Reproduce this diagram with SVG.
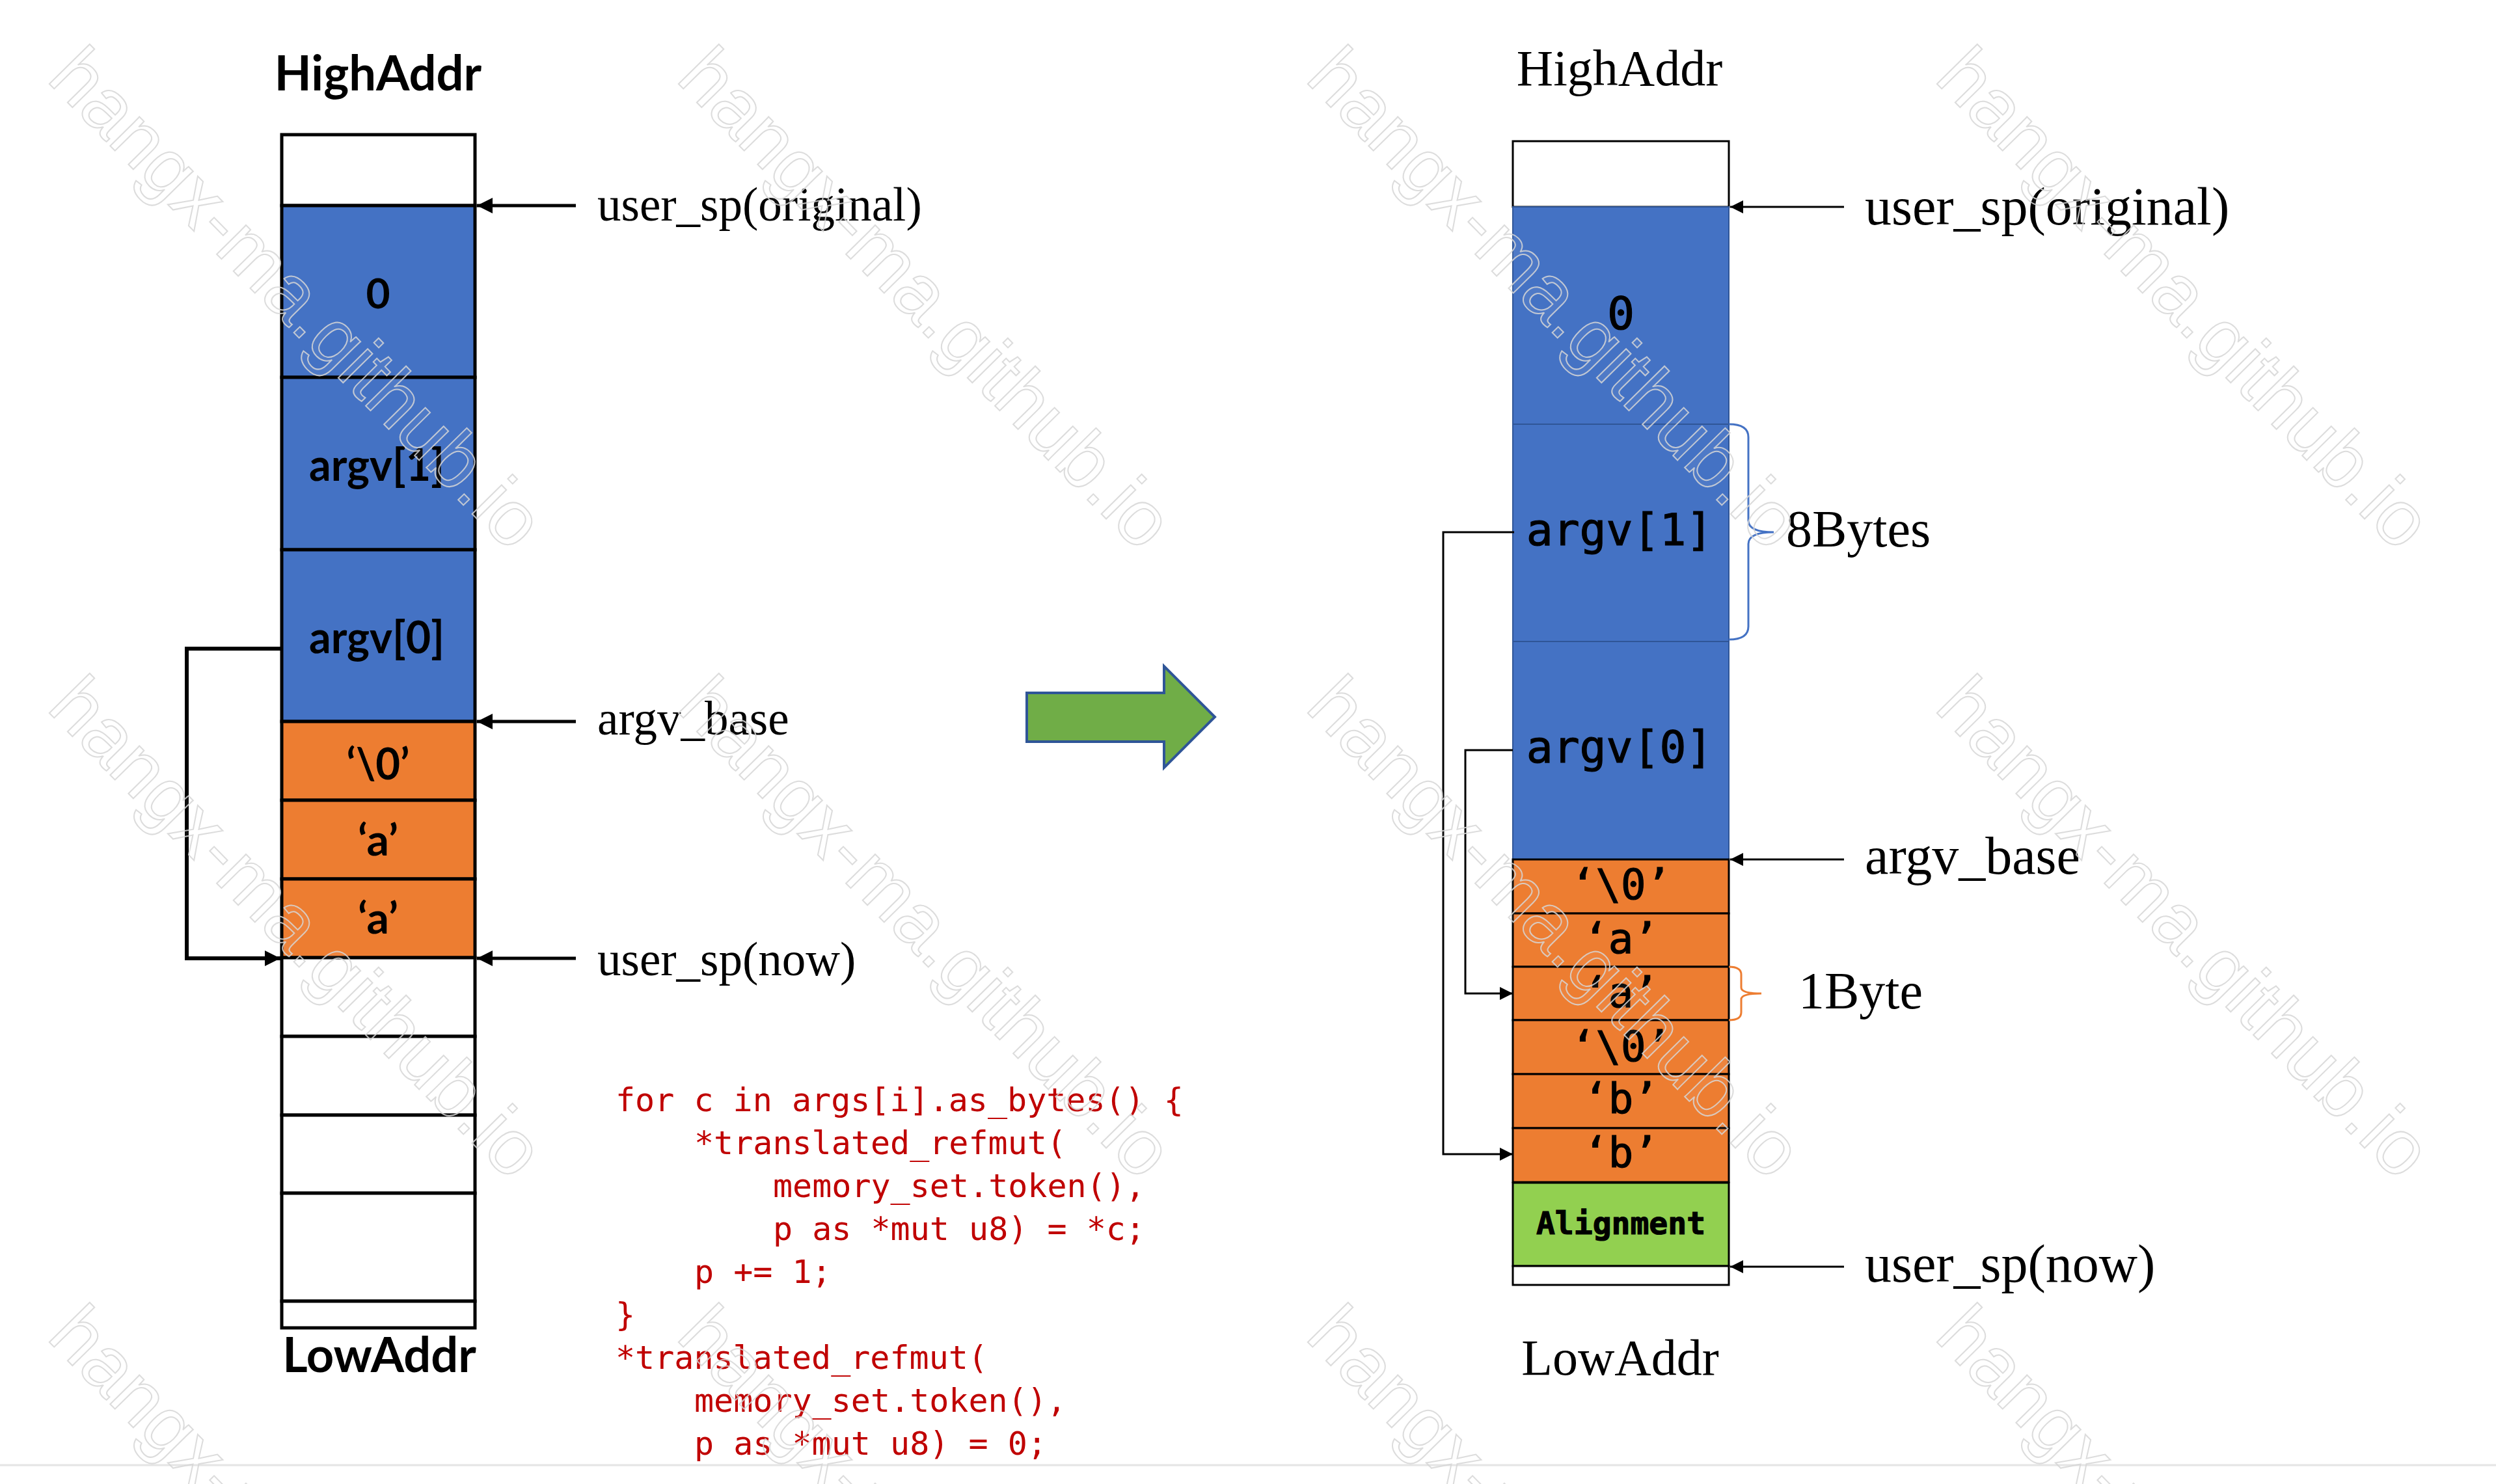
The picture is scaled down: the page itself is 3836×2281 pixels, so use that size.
<svg xmlns="http://www.w3.org/2000/svg" width="3836" height="2281" viewBox="0 0 3836 2281">
<style>
.lb{font-family:Lato,"Liberation Sans",sans-serif;font-weight:bold;fill:#000;text-anchor:middle}
.ser{font-family:"Liberation Serif",serif;fill:#000}
.mono{font-family:"DejaVu Sans Mono","Liberation Mono",monospace;fill:#000;stroke:#000;stroke-width:1.2;text-anchor:middle}
.code{font-family:"DejaVu Sans Mono","Liberation Mono",monospace;fill:#C00000;font-size:50px}
.cellL{stroke:#000;stroke-width:5}
.cellR{stroke:#000;stroke-width:3}
.blueR{fill:#4472C4;stroke:#2F5597;stroke-width:2}
.wm{font-family:"Liberation Sans",Arial,sans-serif;font-size:120px;fill:#fff;fill-opacity:0.06;stroke:#d6d6d6;stroke-width:2;stroke-opacity:0.85}
</style>
<defs>
<marker id="ahL" viewBox="0 0 10 10" refX="10" refY="5" markerWidth="26" markerHeight="24" markerUnits="userSpaceOnUse" orient="auto"><path d="M0,0 L10,5 L0,10 z" fill="#000"/></marker>
<marker id="ahR" viewBox="0 0 10 10" refX="10" refY="5" markerWidth="22" markerHeight="20" markerUnits="userSpaceOnUse" orient="auto"><path d="M0,0 L10,5 L0,10 z" fill="#000"/></marker>
</defs>
<rect x="0" y="0" width="3836" height="2281" fill="#fff"/>

<g id="left-stack">
<text class="lb" x="581" y="139" font-size="74">HighAddr</text>
<rect class="cellL" x="433" y="207" width="297" height="109" fill="#fff"/>
<g id="L-zero"><rect class="cellL" x="433" y="316" width="297" height="264" fill="#4472C4"/><text class="lb" x="581" y="474" font-size="64">0</text></g>
<g id="L-argv1"><rect class="cellL" x="433" y="580" width="297" height="265" fill="#4472C4"/><text class="lb" x="579" y="739" font-size="68" textLength="208" lengthAdjust="spacingAndGlyphs">argv[1]</text></g>
<g id="L-argv0"><rect class="cellL" x="433" y="845" width="297" height="264" fill="#4472C4"/><text class="lb" x="579" y="1004" font-size="68" textLength="208" lengthAdjust="spacingAndGlyphs">argv[0]</text></g>
<g id="L-nul"><rect class="cellL" x="433" y="1109" width="297" height="121" fill="#ED7D31"/><text class="lb" x="581" y="1198" font-size="66" textLength="97" lengthAdjust="spacingAndGlyphs">‘\0’</text></g>
<g id="L-a1"><rect class="cellL" x="433" y="1230" width="297" height="121" fill="#ED7D31"/><text class="lb" x="581" y="1315" font-size="66" textLength="62" lengthAdjust="spacingAndGlyphs">‘a’</text></g>
<g id="L-a2"><rect class="cellL" x="433" y="1351" width="297" height="121" fill="#ED7D31"/><text class="lb" x="581" y="1435" font-size="66" textLength="62" lengthAdjust="spacingAndGlyphs">‘a’</text></g>
<rect class="cellL" x="433" y="1472" width="297" height="121" fill="#fff"/>
<rect class="cellL" x="433" y="1593" width="297" height="121" fill="#fff"/>
<rect class="cellL" x="433" y="1714" width="297" height="120" fill="#fff"/>
<rect class="cellL" x="433" y="1834" width="297" height="166" fill="#fff"/>
<rect class="cellL" x="433" y="2000" width="297" height="41" fill="#fff"/>
<text class="lb" x="583" y="2109" font-size="74">LowAddr</text>
</g>

<g id="left-labels">
<text class="ser" x="918" y="339" font-size="73">user_sp(original)</text>
<text class="ser" x="918" y="1129" font-size="73">argv_base</text>
<text class="ser" x="918" y="1499" font-size="73">user_sp(now)</text>
</g>

<g id="code">
<text class="code" x="946" y="1708">for c in args[i].as_bytes() {</text>
<text class="code" x="1067" y="1774">*translated_refmut(</text>
<text class="code" x="1188" y="1840">memory_set.token(),</text>
<text class="code" x="1188" y="1906">p as *mut u8) = *c;</text>
<text class="code" x="1067" y="1972">p += 1;</text>
<text class="code" x="946" y="2038">}</text>
<text class="code" x="946" y="2104">*translated_refmut(</text>
<text class="code" x="1067" y="2170">memory_set.token(),</text>
<text class="code" x="1067" y="2236">p as *mut u8) = 0;</text>
</g>

<g id="big-arrow">
<path d="M1578,1065 L1789,1065 L1789,1024 L1867,1102 L1789,1180 L1789,1140 L1578,1140 Z" fill="#70AD47" stroke="#2F5597" stroke-width="4"/>
</g>

<g id="right-stack">
<text class="ser" x="2489" y="131" font-size="78" text-anchor="middle">HighAddr</text>
<rect class="cellR" x="2325" y="217" width="332" height="101" fill="#fff"/>
<g id="R-zero"><rect class="blueR" x="2325" y="318" width="332" height="334"/><text class="mono" x="2491" y="506" font-size="70">0</text></g>
<g id="R-argv1"><rect class="blueR" x="2325" y="652" width="332" height="334"/><text class="mono" x="2489" y="838" font-size="68">argv[1]</text></g>
<g id="R-argv0"><rect class="blueR" x="2325" y="986" width="332" height="335"/><text class="mono" x="2489" y="1172" font-size="68">argv[0]</text></g>
<g id="R-c1"><rect class="cellR" x="2325" y="1321" width="332" height="83" fill="#ED7D31"/><text class="mono" x="2491" y="1382" font-size="64">‘\0’</text></g>
<g id="R-c2"><rect class="cellR" x="2325" y="1404" width="332" height="82" fill="#ED7D31"/><text class="mono" x="2491" y="1465" font-size="64">‘a’</text></g>
<g id="R-c3"><rect class="cellR" x="2325" y="1486" width="332" height="82" fill="#ED7D31"/><text class="mono" x="2491" y="1548" font-size="64">‘a’</text></g>
<g id="R-c4"><rect class="cellR" x="2325" y="1568" width="332" height="83" fill="#ED7D31"/><text class="mono" x="2491" y="1631" font-size="64">‘\0’</text></g>
<g id="R-c5"><rect class="cellR" x="2325" y="1651" width="332" height="83" fill="#ED7D31"/><text class="mono" x="2491" y="1711" font-size="64">‘b’</text></g>
<g id="R-c6"><rect class="cellR" x="2325" y="1734" width="332" height="83" fill="#ED7D31"/><text class="mono" x="2491" y="1794" font-size="64">‘b’</text></g>
<g id="R-align"><rect class="cellR" x="2325" y="1818" width="332" height="128" fill="#92D050"/><text class="mono" x="2491" y="1897" font-size="48" font-weight="bold" stroke-width="0">Alignment</text></g>
<rect class="cellR" x="2325" y="1946" width="332" height="29" fill="#fff"/>
<text class="ser" x="2490" y="2113" font-size="78" text-anchor="middle">LowAddr</text>
</g>

<g id="right-labels">
<text class="ser" x="2866" y="345" font-size="82">user_sp(original)</text>
<text class="ser" x="2866" y="1343" font-size="82">argv_base</text>
<text class="ser" x="2866" y="1970" font-size="82">user_sp(now)</text>
<text class="ser" x="2745" y="840" font-size="80">8Bytes</text>
<text class="ser" x="2764" y="1550" font-size="80">1Byte</text>
<path d="M2657,652 Q2687,652 2687,672 L2687,800 Q2687,818 2726,818 Q2687,818 2687,836 L2687,963 Q2687,983 2657,983" fill="none" stroke="#4472C4" stroke-width="3"/>
<path d="M2657,1486 Q2676,1486 2676,1498 L2676,1518 Q2676,1527 2707,1527 Q2676,1527 2676,1536 L2676,1556 Q2676,1568 2657,1568" fill="none" stroke="#ED7D31" stroke-width="3"/>
</g>

<g id="connectors">
<line x1="885" y1="316" x2="733" y2="316" stroke="#000" stroke-width="5" marker-end="url(#ahL)"/>
<line x1="885" y1="1109" x2="733" y2="1109" stroke="#000" stroke-width="5" marker-end="url(#ahL)"/>
<line x1="885" y1="1473" x2="733" y2="1473" stroke="#000" stroke-width="5" marker-end="url(#ahL)"/>
<polyline points="433,997 287,997 287,1473 431,1473" fill="none" stroke="#000" stroke-width="6" marker-end="url(#ahL)"/>
<line x1="2834" y1="318" x2="2659" y2="318" stroke="#000" stroke-width="3" marker-end="url(#ahR)"/>
<line x1="2834" y1="1321" x2="2659" y2="1321" stroke="#000" stroke-width="3" marker-end="url(#ahR)"/>
<line x1="2834" y1="1947" x2="2659" y2="1947" stroke="#000" stroke-width="3" marker-end="url(#ahR)"/>
<polyline points="2327,818 2218,818 2218,1774 2325,1774" fill="none" stroke="#000" stroke-width="3" marker-end="url(#ahR)"/>
<polyline points="2325,1153 2252,1153 2252,1527 2325,1527" fill="none" stroke="#000" stroke-width="3" marker-end="url(#ahR)"/>
</g>

<line x1="0" y1="2252" x2="3836" y2="2252" stroke="#e4e4e4" stroke-width="3"/>

<g id="watermark">
<text class="wm" transform="translate(70,123) rotate(45.5)">hangx-ma.github.io</text>
<text class="wm" transform="translate(1037,123) rotate(45.5)">hangx-ma.github.io</text>
<text class="wm" transform="translate(2004,123) rotate(45.5)">hangx-ma.github.io</text>
<text class="wm" transform="translate(2971,123) rotate(45.5)">hangx-ma.github.io</text>
<text class="wm" transform="translate(70,1090) rotate(45.5)">hangx-ma.github.io</text>
<text class="wm" transform="translate(1037,1090) rotate(45.5)">hangx-ma.github.io</text>
<text class="wm" transform="translate(2004,1090) rotate(45.5)">hangx-ma.github.io</text>
<text class="wm" transform="translate(2971,1090) rotate(45.5)">hangx-ma.github.io</text>
<text class="wm" transform="translate(70,2057) rotate(45.5)">hangx-ma.github.io</text>
<text class="wm" transform="translate(1037,2057) rotate(45.5)">hangx-ma.github.io</text>
<text class="wm" transform="translate(2004,2057) rotate(45.5)">hangx-ma.github.io</text>
<text class="wm" transform="translate(2971,2057) rotate(45.5)">hangx-ma.github.io</text>
</g>
</svg>
